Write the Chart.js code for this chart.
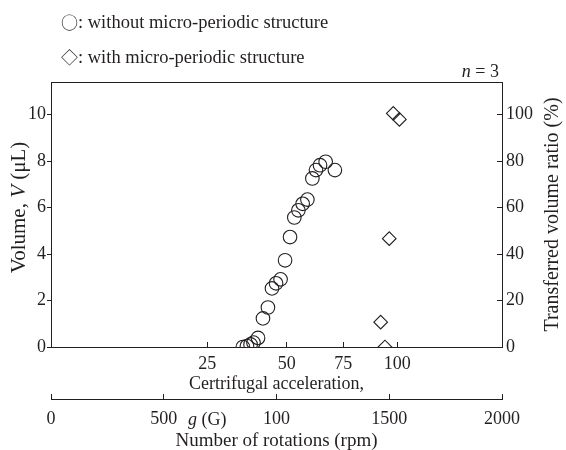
<!DOCTYPE html>
<html><head><meta charset="utf-8">
<script src="https://cdn.jsdelivr.net/npm/chart.js@4"></script>
<style>html,body{margin:0;padding:0;background:#fff;overflow:hidden}</style>
</head><body>
<canvas id="c" width="566" height="450"></canvas>
<script>
// ---- data ----
const circleRpm    = [851, 869, 885, 898, 918, 940, 962, 980, 998, 1018, 1038, 1060, 1079, 1097, 1116, 1137, 1159, 1175, 1193, 1218, 1259];
const circleVolume = [0.0, 0.04, 0.11, 0.19, 0.39, 1.23, 1.70, 2.52, 2.74, 2.91, 3.73, 4.73, 5.57, 5.88, 6.16, 6.34, 7.25, 7.61, 7.82, 7.97, 7.61];
const diamondRpm   = [1462, 1481, 1500, 1518, 1545];
const diamondRatio = [10.7, 0, 46.6, 100.5, 97.9];
const leftTicks    = [0, 2, 4, 6, 8, 10];
const rightTicks   = [0, 20, 40, 60, 80, 100];
const gTickLabels  = ['25', '50', '75', '100'];
const gTickRpm     = [693, 1045, 1296, 1536];
const rpmTickValues = [0, 500, 1000, 1500, 2000];
const rpmTickLabels = ['0', '500', '100', '1500', '2000'];

const FONT = "'Liberation Serif', 'Times New Roman', serif";
const SYM = "'Noto Sans CJK JP', 'DejaVu Sans', sans-serif";
const INK = '#231f20';
Chart.defaults.font.family = FONT;
Chart.defaults.font.size = 18;
Chart.defaults.color = INK;

function drawParts(c, parts, cx, cy, size) {
  let total = 0;
  const widths = parts.map(([t, it]) => {
    c.font = (it ? 'italic ' : '') + size + 'px ' + FONT;
    const w = c.measureText(t).width; total += w; return w;
  });
  let x = cx - total / 2;
  parts.forEach(([t, it], i) => {
    c.font = (it ? 'italic ' : '') + size + 'px ' + FONT;
    c.fillText(t, x, cy); x += widths[i];
  });
}

const textPlugin = {
  id: 'extraText',
  afterDraw(chart) {
    const c = chart.ctx;
    const a = chart.chartArea;
    c.save();
    c.fillStyle = INK;
    c.textBaseline = 'middle';
    c.textAlign = 'left';
    const legend = [['\u25CB', ': without micro-periodic structure', 23], ['\u25C7', ': with micro-periodic structure', 58]];
    legend.forEach(([s, t, y]) => {
      c.font = '17px ' + SYM;
      c.fillText(s, 61, y);
      const ws = c.measureText(s).width;
      c.font = '18.5px ' + FONT;
      c.fillText(t, 61 + ws, y);
    });
    c.font = '18px ' + FONT;
    const right = a.right - 3;
    const rest = ' = 3';
    const wRest = c.measureText(rest).width;
    c.fillText(rest, right - wRest, 72);
    c.font = 'italic 18px ' + FONT;
    const wn = c.measureText('n').width;
    c.fillText('n', right - wRest - wn, 72);
    const gx = 188, gy = 420;
    c.fillText('g', gx, gy);
    const wg = c.measureText('g').width;
    c.font = '18px ' + FONT;
    c.fillText(' (G)', gx + wg, gy);
    const cy = (a.top + a.bottom) / 2;
    c.save();
    c.translate(19, cy - 7); c.rotate(-Math.PI / 2);
    drawParts(c, [['Volume, ', false], ['V', true], [' (\u03BCL)', false]], 0, 0, 21);
    c.restore();
    c.save();
    c.translate(553, cy); c.rotate(-Math.PI / 2);
    drawParts(c, [['Transferred volume ratio (%)', false]], 0, 0, 20);
    c.restore();
    c.restore();
  }
};

new Chart(document.getElementById('c'), {
  type: 'scatter',
  data: {
    datasets: [
      {
        label: 'without micro-periodic structure',
        data: circleRpm.map((x, i) => ({ x, y: circleVolume[i] })),
        xAxisID: 'x', yAxisID: 'y',
        pointStyle: 'circle', pointRadius: 6.8, pointHoverRadius: 6.8,
        borderColor: INK, backgroundColor: 'rgba(0,0,0,0)', borderWidth: 1.1
      },
      {
        label: 'with micro-periodic structure',
        data: diamondRpm.map((x, i) => ({ x, y: diamondRatio[i] })),
        xAxisID: 'x', yAxisID: 'y2',
        pointStyle: 'rectRot', pointRadius: 6.8, pointHoverRadius: 6.8,
        borderColor: INK, backgroundColor: 'rgba(0,0,0,0)', borderWidth: 1.1
      }
    ]
  },
  options: {
    responsive: false,
    animation: false,
    devicePixelRatio: 1,
    layout: { padding: { top: 82, left: 0, right: 0, bottom: 0 } },
    plugins: { legend: { display: false }, tooltip: { enabled: false } },
    scales: {
      x: {
        type: 'linear', position: 'bottom', min: 0, max: 2000, weight: 0,
        afterBuildTicks: s => { s.ticks = gTickRpm.map(v => ({ value: v })); },
        afterFit: s => { s.height = 52; },
        ticks: { padding: 11, autoSkip: false, maxRotation: 0, callback: (v, i) => gTickLabels[i] },
        grid: { drawOnChartArea: false, tickLength: -5, color: INK },
        border: { display: true, color: INK, width: 1 },
        title: { display: true, text: 'Certrifugal acceleration,', padding: { top: 0, bottom: 4 } }
      },
      x2: {
        type: 'linear', position: 'bottom', min: 0, max: 2000, weight: 1,
        afterBuildTicks: s => { s.ticks = rpmTickValues.map(v => ({ value: v })); },
        afterFit: s => { s.height = 51; },
        ticks: { padding: 14, autoSkip: false, maxRotation: 0, callback: (v, i) => rpmTickLabels[i] },
        grid: { drawOnChartArea: false, tickLength: -5, color: INK },
        border: { display: true, color: INK, width: 1 },
        title: { display: true, text: 'Number of rotations (rpm)', font: { size: 19 }, padding: { top: 0, bottom: -2 } }
      },
      xTop: {
        type: 'linear', position: 'top', min: 0, max: 2000,
        afterFit: s => { s.height = 0; },
        ticks: { display: false },
        grid: { drawOnChartArea: false, drawTicks: false },
        border: { display: true, color: INK, width: 1 }
      },
      y: {
        type: 'linear', position: 'left', min: 0, max: 11.4,
        afterBuildTicks: s => { s.ticks = leftTicks.map(v => ({ value: v })); },
        afterFit: s => { s.width = 51; },
        ticks: { padding: 1 },
        grid: { drawOnChartArea: false, tickLength: 4, color: INK },
        border: { display: true, color: INK, width: 1 }
      },
      y2: {
        type: 'linear', position: 'right', min: 0, max: 114,
        afterBuildTicks: s => { s.ticks = rightTicks.map(v => ({ value: v })); },
        afterFit: s => { s.width = 64; },
        ticks: { padding: 9 },
        grid: { drawOnChartArea: false, tickLength: -5, color: INK },
        border: { display: true, color: INK, width: 1 }
      }
    }
  },
  plugins: [textPlugin]
});
</script>
</body></html>
